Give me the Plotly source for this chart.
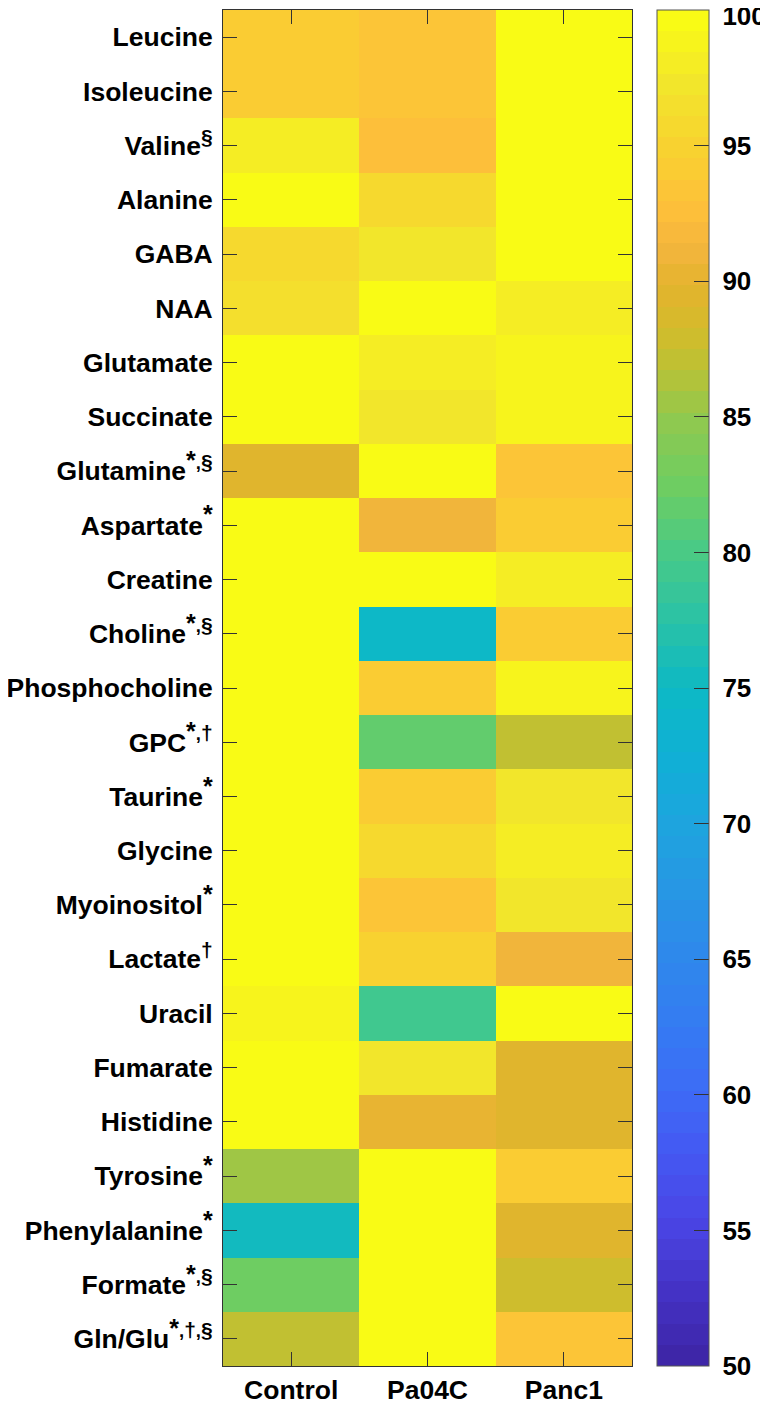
import plotly.graph_objects as go

# ---- data ----
AST = '<span style="font-size:25px">*</span>'
SEC = '<span style="font-size:21px">§</span>'
DAG = '<span style="font-size:21px">†</span>'
metabolites = [
    "Leucine", "Isoleucine", f"Valine<sup>{SEC}</sup>", "Alanine", "GABA", "NAA",
    "Glutamate", "Succinate", f"Glutamine<sup>{AST},{SEC}</sup>", f"Aspartate<sup>{AST}</sup>",
    "Creatine", f"Choline<sup>{AST},{SEC}</sup>", "Phosphocholine", f"GPC<sup>{AST},{DAG}</sup>",
    f"Taurine<sup>{AST}</sup>", "Glycine", f"Myoinositol<sup>{AST}</sup>", f"Lactate<sup>{DAG}</sup>",
    "Uracil", "Fumarate", "Histidine", f"Tyrosine<sup>{AST}</sup>",
    f"Phenylalanine<sup>{AST}</sup>", f"Formate<sup>{AST},{SEC}</sup>",
    f"Gln/Glu<sup>{AST},{DAG},{SEC}</sup>",
]
groups = ["Control", "Pa04C", "Panc1"]

control = [93.8, 94.3, 98.0, 100, 96.0, 96.5, 100, 100, 89.5, 100,
           99.5, 100, 100, 100, 100, 100, 100, 100, 98.5, 100,
           100, 85.5, 75.5, 82.8, 87.0]
pa04c = [93.5, 93.0, 92.5, 95.5, 97.0, 100, 98.0, 97.0, 100, 90.7,
         100, 74.3, 94.5, 81.3, 94.5, 96.0, 93.0, 95.0, 79.5, 97.5,
         90.6, 100, 100, 100, 100]
panc1 = [100, 100, 100, 100, 100, 98.0, 98.5, 99.0, 93.0, 94.5,
         97.8, 94.5, 99.0, 87.0, 97.0, 98.0, 97.0, 90.7, 100, 89.5,
         89.5, 94.5, 89.5, 87.5, 93.3]

cb_ticks = [50, 55, 60, 65, 70, 75, 80, 85, 90, 95, 100]

# ---- parula-like colormap (control points, 64 stepped levels) ----
cmap_pts = [
    (0.00, "#3E26A8"), (0.05, "#4433C6"), (0.10, "#4A45E5"), (0.15, "#4458F2"),
    (0.20, "#3D6CF6"), (0.25, "#347CF2"), (0.30, "#2E89EB"), (0.35, "#2797E4"),
    (0.40, "#1DA5DE"), (0.45, "#0FB0D5"), (0.50, "#0DB9C4"), (0.55, "#2AC2A6"),
    (0.60, "#48CA87"), (0.65, "#6DCD62"), (0.70, "#8FC94F"), (0.74, "#BCC134"),
    (0.77, "#D4BB2B"), (0.80, "#E3B42D"), (0.83, "#F4B53E"), (0.86, "#FEC03A"),
    (0.90, "#F9D030"), (0.95, "#F2E52C"), (1.00, "#F9FB15"),
]


def hex2rgb(h):
    return tuple(int(h[i:i + 2], 16) for i in (1, 3, 5))


def cmap_at(t):
    for (t0, c0), (t1, c1) in zip(cmap_pts[:-1], cmap_pts[1:]):
        if t0 <= t <= t1:
            f = (t - t0) / (t1 - t0)
            a, b = hex2rgb(c0), hex2rgb(c1)
            return tuple(round(a[k] + (b[k] - a[k]) * f) for k in range(3))
    return hex2rgb(cmap_pts[-1][1])


N = 64
colorscale = []
for i in range(N):
    r, g, b = cmap_at(i / (N - 1))
    c = f"rgb({r},{g},{b})"
    colorscale.append([i / N, c])
    colorscale.append([(i + 1) / N, c])

z = [[control[i], pa04c[i], panc1[i]] for i in range(len(metabolites))]

FONT = "Liberation Sans"
AX = "#333333"
FS = 26.5


def cb_label(t):
    # the top label sits just inside the bar, as in the reference
    if t == max(cb_ticks):
        return f'<sub><span style="font-size:26px"> {t}</span></sub>'
    return f" {t}"


fig = go.Figure(go.Heatmap(
    z=z, x=groups, y=metabolites,
    zmin=50, zmax=100, colorscale=colorscale,
    xgap=0, ygap=0, hoverongaps=False,
    colorbar=dict(
        x=1.0611, xanchor="left", xref="paper",
        y=0.5, yanchor="middle", len=1, lenmode="fraction",
        thickness=52, thicknessmode="pixels",
        outlinecolor="#555555", outlinewidth=1,
        tickmode="array",
        tickvals=[v if v < 100 else 99.999 for v in cb_ticks],
        ticktext=[cb_label(t) for t in cb_ticks],
        ticks="inside", ticklen=15, tickcolor=AX, tickwidth=1,
        tickfont=dict(family=FONT, size=26, color="black", weight="bold"),
        ticklabeloverflow="allow",
        xpad=0, ypad=0,
    ),
))

fig.update_layout(
    width=760, height=1397,
    margin=dict(l=215, r=136, t=2, b=39, autoexpand=False),
    paper_bgcolor="white", plot_bgcolor="white",
    font=dict(family=FONT, size=FS, color="black"),
)
fig.update_xaxes(
    showline=True, linecolor=AX, linewidth=1, mirror="ticks",
    ticks="inside", ticklen=14, tickcolor=AX, tickwidth=1,
    tickfont=dict(family=FONT, size=FS, color="black", weight="bold"),
    showgrid=False, zeroline=False, automargin=False, ticklabelstandoff=0,
)
fig.update_yaxes(
    autorange="reversed",
    showline=True, linecolor=AX, linewidth=1, mirror="ticks",
    ticks="inside", ticklen=14, tickcolor=AX, tickwidth=1,
    tickfont=dict(family=FONT, size=FS, color="black", weight="bold"),
    showgrid=False, zeroline=False, automargin=False, ticklabelstandoff=4,
)

fig.write_html("out.html")
